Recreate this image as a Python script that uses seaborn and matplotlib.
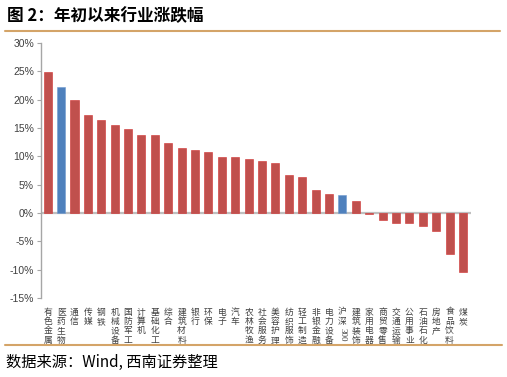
import matplotlib
matplotlib.use("Agg")
import matplotlib.pyplot as plt
import seaborn as sns
import pandas as pd
from matplotlib.lines import Line2D
import matplotlib.transforms as mtransforms

categories = ["有色金属", "医药生物", "通信", "传媒", "钢铁", "机械设备", "国防军工", "计算机",
              "基础化工", "综合", "建筑材料", "银行", "环保", "电子", "汽车", "农林牧渔",
              "社会服务", "美容护理", "纺织服饰", "轻工制造", "非银金融", "电力设备", "沪深300",
              "建筑装饰", "家用电器", "商贸零售", "交通运输", "公用事业", "石油石化", "房地产",
              "食品饮料", "煤炭"]
values = [24.9, 22.3, 19.9, 17.3, 16.5, 15.6, 14.8, 13.8,
          13.7, 12.3, 11.4, 11.2, 10.7, 9.9, 9.8, 9.5,
          9.2, 8.8, 6.7, 6.3, 4.0, 3.3, 3.1,
          2.1, -0.1, -1.2, -1.7, -1.7, -2.3, -3.2,
          -7.2, -10.4]
highlight = ["医药生物", "沪深300"]
yticks = [-15, -10, -5, 0, 5, 10, 15, 20, 25, 30]

sns.set_theme(style="white")
plt.rcParams['font.family'] = ['Noto Sans CJK SC', 'DejaVu Sans']

RED = "#C0504D"
BLUE = "#4F81BD"
df = pd.DataFrame({"cat": categories, "val": values})
df["grp"] = ["hl" if c in highlight else "base" for c in categories]

fig = plt.figure(figsize=(5.07, 3.77), dpi=100)
ax = fig.add_axes([41/507, 1-298/377, (471-41)/507, (298-43)/377])

sns.barplot(data=df, x="cat", y="val", hue="grp", palette={"base": RED, "hl": BLUE},
            dodge=False, width=0.6, legend=False, ax=ax, saturation=1,
            edgecolor="#D03030", linewidth=0.4)
for p in ax.patches:
    if p.get_facecolor()[2] > 0.5:
        p.set_edgecolor("#6F9BD0")

ax.set_ylim(-15, 30)
ax.set_xlim(-0.5, len(categories) - 0.4)
ax.set_yticks(yticks)
ax.set_yticklabels([f"{t}%" for t in yticks], fontsize=7.5, color="#404040",
                   family=['Liberation Sans', 'DejaVu Sans'])
ax.axhline(0, color="#BFBFBF", lw=1.6, zorder=0.5)

labels = []
for c in categories:
    if c == "沪深300":
        labels.append("沪\n深")
    else:
        labels.append("\n".join(c))
ax.set_xticks(range(len(categories)))
ax.set_xticklabels(labels, fontsize=6.3, color="#404040", linespacing=1.05, va="top")
ax.tick_params(axis="x", length=0, pad=7)
ax.tick_params(axis="y", left=True, length=3, width=0.8, color="#A6A6A6", pad=2)
idx = categories.index("沪深300")
trans = mtransforms.blended_transform_factory(ax.transData, fig.transFigure)
ax.text(idx, 1-327.5/377, "300", rotation=270, fontsize=6.5, color="#404040",
        ha="center", va="top", transform=trans, family=['Liberation Serif', 'DejaVu Serif'])

for s in ["top", "right", "bottom"]:
    ax.spines[s].set_visible(False)
ax.spines["left"].set_color("#A6A6A6")
ax.spines["left"].set_linewidth(1.0)
ax.set_xlabel("")
ax.set_ylabel("")

fig.text(7/507, 1-16/377, "图 2：年初以来行业涨跌幅", fontsize=12, fontweight="bold",
         va="center", ha="left", color="#000000")
fig.add_artist(Line2D([5/507, 500/507], [1-31/377, 1-31/377], color="#D4A468", lw=1.5))
fig.add_artist(Line2D([5/507, 502/507], [1-345/377, 1-345/377], color="#D4A468", lw=1.5))
fig.text(6/507, 1-362/377, "数据来源：Wind, 西南证券整理", fontsize=11, style="italic",
         va="center", ha="left", color="#000000")

fig.savefig("out.png", dpi=100)
